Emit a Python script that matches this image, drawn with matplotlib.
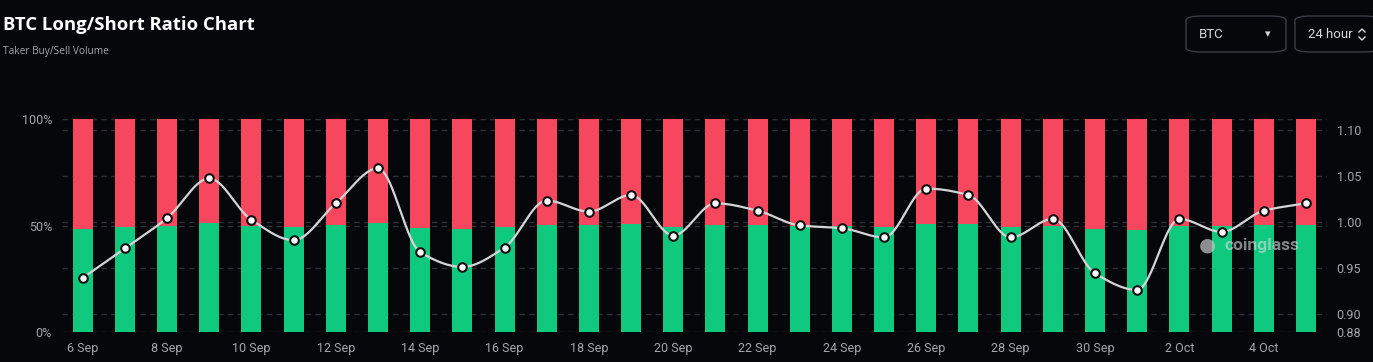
import numpy as np
import matplotlib
matplotlib.use("Agg")
import matplotlib.pyplot as plt
from matplotlib.patches import FancyBboxPatch
from matplotlib.transforms import blended_transform_factory

# taker buy/sell ratio per day
dates = ["6 Sep", "7 Sep", "8 Sep", "9 Sep", "10 Sep", "11 Sep", "12 Sep", "13 Sep",
         "14 Sep", "15 Sep", "16 Sep", "17 Sep", "18 Sep", "19 Sep", "20 Sep", "21 Sep",
         "22 Sep", "23 Sep", "24 Sep", "25 Sep", "26 Sep", "27 Sep", "28 Sep", "29 Sep",
         "30 Sep", "1 Oct", "2 Oct", "3 Oct", "4 Oct", "5 Oct"]
ratio = [0.939, 0.971, 1.004, 1.047, 1.002, 0.980, 1.020, 1.058, 0.967, 0.951,
         0.972, 1.023, 1.011, 1.029, 0.985, 1.020, 1.012, 0.996, 0.993, 0.983,
         1.036, 1.029, 0.983, 1.003, 0.944, 0.926, 1.003, 0.989, 1.012, 1.020]
long_pct = [r / (1 + r) * 100 for r in ratio]
short_pct = [100 - v for v in long_pct]

BG = "#05070b"
RED = "#f6475f"
GREEN = "#0fc97f"
GRID = "#2c2f35"
TXT = "#a3a6ab"


def pchip(x, y, xs):
    x = np.asarray(x, float); y = np.asarray(y, float)
    h = np.diff(x); d = np.diff(y) / h
    m = np.zeros_like(y)
    for i in range(1, len(y) - 1):
        if d[i - 1] * d[i] > 0:
            w1 = 2 * h[i] + h[i - 1]; w2 = h[i] + 2 * h[i - 1]
            m[i] = (w1 + w2) / (w1 / d[i - 1] + w2 / d[i])
    m[0] = d[0]; m[-1] = d[-1]
    idx = np.clip(np.searchsorted(x, xs) - 1, 0, len(x) - 2)
    t = (xs - x[idx]) / h[idx]
    h00 = 2 * t**3 - 3 * t**2 + 1; h10 = t**3 - 2 * t**2 + t
    h01 = -2 * t**3 + 3 * t**2; h11 = t**3 - t**2
    return h00 * y[idx] + h10 * h[idx] * m[idx] + h01 * y[idx + 1] + h11 * h[idx] * m[idx + 1]


plt.rcParams['font.family'] = ['Roboto', 'DejaVu Sans']
fig = plt.figure(figsize=(13.73, 3.62), dpi=100, facecolor=BG)
ax = fig.add_axes([0.0449, 0.082, 0.9216, 0.588])
ax.set_facecolor(BG)
ax2 = ax.twinx()
x = np.arange(len(dates))

ax.bar(x, long_pct, width=0.474, color=GREEN, zorder=2)
ax.bar(x, short_pct, width=0.474, bottom=long_pct, color=RED, zorder=2)
ax.set_xlim(-0.5, len(dates) - 0.5)
ax.set_ylim(0, 100)
ax.set_yticks([0, 50, 100])
ax.set_yticklabels(["0%", "50%", "100%"])
ax.set_xticks(x[::2])
ax.set_xticklabels(dates[::2])
for yv in [0, 50, 100]:
    ax.axhline(yv, color=GRID, lw=1, ls=(0, (4, 3)), zorder=1)
# right-axis grid drawn on the back axes so it stays behind the bars
tr = blended_transform_factory(ax.transAxes, ax2.transData)
for yv in [0.90, 0.95, 1.00, 1.05, 1.10]:
    ax.plot([0, 1], [yv, yv], transform=tr, color=GRID, lw=1, ls=(0, (4, 3)), zorder=1)
for s in ax.spines.values():
    s.set_visible(False)
ax.tick_params(colors=TXT, labelsize=9, length=0, pad=7)

ax2.set_ylim(0.88, 1.111)
ax2.set_yticks([0.88, 0.90, 0.95, 1.00, 1.05, 1.10])
ax2.set_yticklabels(["0.88", "0.90", "0.95", "1.00", "1.05", "1.10"])
for s in ax2.spines.values():
    s.set_visible(False)
ax2.tick_params(colors=TXT, labelsize=9, length=0, pad=7)

xs = np.linspace(0, len(dates) - 1, 1200)
ax2.plot(xs, pchip(x, ratio, xs), color="#d4d4d6", lw=1.6, zorder=4)
ax2.scatter(x, ratio, s=38, facecolor="white", edgecolor="#111111", linewidth=1.5, zorder=5)

# watermark
fig.text(0.919, 0.323, "coinglass", color="#d8dadd", alpha=0.6, fontsize=12.5,
         fontweight="bold", va="center", ha="center")
fig.text(0.8795, 0.323, "\u25cf", color="#c8c8c8", alpha=0.7, fontsize=14, va="center", ha="center")

# title
fig.text(0.002, 0.93, "BTC Long/Short Ratio Chart", color="white", fontsize=13.3,
         fontweight="bold", family=["Open Sans", "DejaVu Sans"], va="center")
fig.text(0.002, 0.857, "Taker Buy/Sell Volume", color=TXT, fontsize=7.3,
         family=["Open Sans", "DejaVu Sans"], va="center")

# dropdown boxes
W, H = 1373, 362
for x0, x1, label in [(1186, 1286, "BTC"), (1295, 1380, "24 hour")]:
    box = FancyBboxPatch((x0 / W, 1 - 52 / H), (x1 - x0) / W, 36 / H,
                         boxstyle="round,pad=0,rounding_size=0.012", transform=fig.transFigure,
                         facecolor=BG, edgecolor="#3a3d44", lw=1)
    fig.patches.append(box)
    fig.text((x0 + 13) / W, 1 - 34 / H, label, color="#d6d8db", fontsize=9.5, va="center")
fig.text(1268 / W, 1 - 34 / H, "\u25be", color="#d6d8db", fontsize=8, va="center", ha="center")
fig.lines.append(plt.Line2D([1359 / W, 1362 / W, 1365 / W], [1 - 32 / H, 1 - 29 / H, 1 - 32 / H],
                            transform=fig.transFigure, color="#d6d8db", lw=1))
fig.lines.append(plt.Line2D([1359 / W, 1362 / W, 1365 / W], [1 - 37 / H, 1 - 40 / H, 1 - 37 / H],
                            transform=fig.transFigure, color="#d6d8db", lw=1))

fig.savefig("out.png", dpi=100, facecolor=BG)
